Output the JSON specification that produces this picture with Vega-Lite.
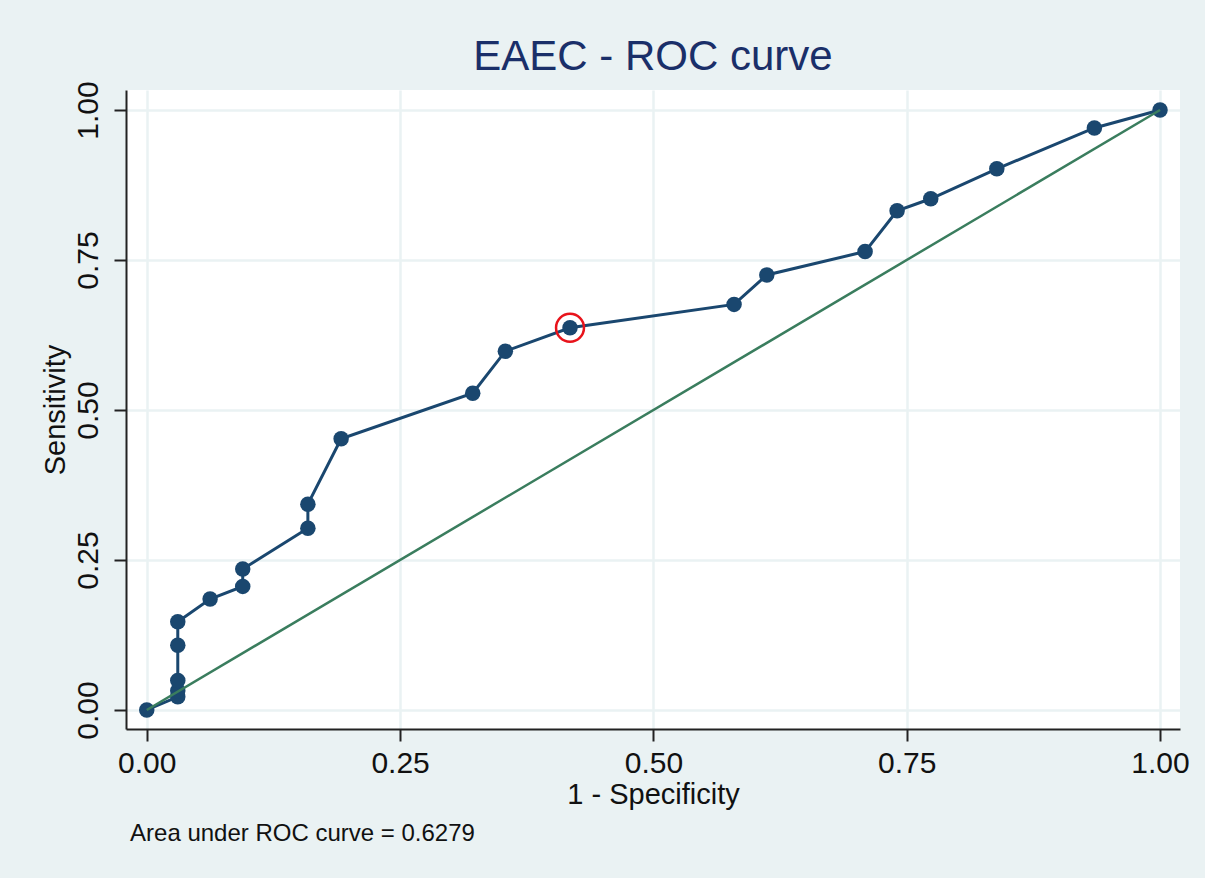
{
  "$schema": "https://vega.github.io/schema/vega-lite/v6.json",
  "width": 1054,
  "height": 639,
  "autosize": {"type": "none"},
  "padding": {"left": 126, "top": 90, "right": 25, "bottom": 149},
  "background": "#EAF2F3",
  "title": {
    "text": "EAEC - ROC curve",
    "fontSize": 42,
    "font": "Liberation Sans",
    "fontWeight": "normal",
    "color": "#1a2f69",
    "anchor": "middle",
    "offset": 2
  },
  "config": {
    "view": {"fill": "white", "stroke": null},
    "font": "Liberation Sans",
    "axis": {
      "labelFont": "Liberation Sans",
      "titleFont": "Liberation Sans",
      "labelFontSize": 30,
      "titleFontSize": 29,
      "titleFontWeight": "normal",
      "labelColor": "#111111",
      "titleColor": "#111111",
      "domainColor": "#222222",
      "domainWidth": 2,
      "tickColor": "#222222",
      "tickWidth": 2,
      "tickSize": 12,
      "gridColor": "#EAF2F3",
      "gridWidth": 2.5,
      "grid": true
    }
  },
  "datasets": {
    "roc": [
      {"step": 0, "fpr": 0.0, "sens": 0.0, "cut": false},
      {"step": 1, "fpr": 0.0306, "sens": 0.022, "cut": false},
      {"step": 2, "fpr": 0.0306, "sens": 0.032, "cut": false},
      {"step": 3, "fpr": 0.0306, "sens": 0.049, "cut": false},
      {"step": 4, "fpr": 0.0306, "sens": 0.108, "cut": false},
      {"step": 5, "fpr": 0.0306, "sens": 0.147, "cut": false},
      {"step": 6, "fpr": 0.0625, "sens": 0.185, "cut": false},
      {"step": 7, "fpr": 0.0947, "sens": 0.206, "cut": false},
      {"step": 8, "fpr": 0.0947, "sens": 0.235, "cut": false},
      {"step": 9, "fpr": 0.159, "sens": 0.303, "cut": false},
      {"step": 10, "fpr": 0.159, "sens": 0.343, "cut": false},
      {"step": 11, "fpr": 0.1918, "sens": 0.452, "cut": false},
      {"step": 12, "fpr": 0.3217, "sens": 0.528, "cut": false},
      {"step": 13, "fpr": 0.3539, "sens": 0.598, "cut": false},
      {"step": 14, "fpr": 0.4177, "sens": 0.637, "cut": true},
      {"step": 15, "fpr": 0.5796, "sens": 0.676, "cut": false},
      {"step": 16, "fpr": 0.6119, "sens": 0.725, "cut": false},
      {"step": 17, "fpr": 0.7089, "sens": 0.764, "cut": false},
      {"step": 18, "fpr": 0.7405, "sens": 0.832, "cut": false},
      {"step": 19, "fpr": 0.7737, "sens": 0.852, "cut": false},
      {"step": 20, "fpr": 0.8389, "sens": 0.902, "cut": false},
      {"step": 21, "fpr": 0.9352, "sens": 0.970, "cut": false},
      {"step": 22, "fpr": 1.0, "sens": 1.0, "cut": false}
    ],
    "diag": [
      {"fpr": 0.0, "sens": 0.0},
      {"fpr": 1.0, "sens": 1.0}
    ]
  },
  "layer": [
    {
      "data": {"name": "roc"},
      "mark": {"type": "line", "color": "#1a476f", "strokeWidth": 3},
      "encoding": {
        "x": {
          "field": "fpr",
          "type": "quantitative",
          "scale": {"domain": [-0.0205, 1.0197], "nice": false, "zero": false},
          "axis": {
            "title": "1 - Specificity",
            "values": [0, 0.25, 0.5, 0.75, 1],
            "format": ".2f",
            "labelPadding": 7,
            "titlePadding": 2
          }
        },
        "y": {
          "field": "sens",
          "type": "quantitative",
          "scale": {"domain": [-0.0317, 1.0333], "nice": false, "zero": false},
          "axis": {
            "title": "Sensitivity",
            "values": [0, 0.25, 0.5, 0.75, 1],
            "format": ".2f",
            "labelAngle": -90,
            "labelAlign": "center",
            "labelBaseline": "alphabetic",
            "labelPadding": 17,
            "titlePadding": 3
          }
        },
        "order": {"field": "step", "type": "quantitative"}
      }
    },
    {
      "data": {"name": "roc"},
      "mark": {"type": "point", "filled": true, "color": "#1a476f", "opacity": 1, "size": 240},
      "encoding": {
        "x": {"field": "fpr", "type": "quantitative"},
        "y": {"field": "sens", "type": "quantitative"}
      }
    },
    {
      "data": {"name": "diag"},
      "mark": {"type": "line", "color": "#3a7d5e", "strokeWidth": 2.5},
      "encoding": {
        "x": {"field": "fpr", "type": "quantitative"},
        "y": {"field": "sens", "type": "quantitative"}
      }
    },
    {
      "data": {"name": "roc"},
      "transform": [{"filter": "datum.cut"}],
      "mark": {"type": "point", "filled": false, "color": "#e8131b", "strokeWidth": 2.5, "size": 780, "opacity": 1},
      "encoding": {
        "x": {"field": "fpr", "type": "quantitative"},
        "y": {"field": "sens", "type": "quantitative"}
      }
    },
    {
      "data": {"values": [{"label": "Area under ROC curve = 0.6279"}]},
      "mark": {"type": "text", "align": "left", "baseline": "alphabetic", "fontSize": 24, "font": "Liberation Sans", "color": "#111111", "clip": false},
      "encoding": {
        "x": {"datum": -0.0165, "type": "quantitative"},
        "y": {"datum": -0.2183, "type": "quantitative"},
        "text": {"field": "label", "type": "nominal"}
      }
    }
  ]
}
